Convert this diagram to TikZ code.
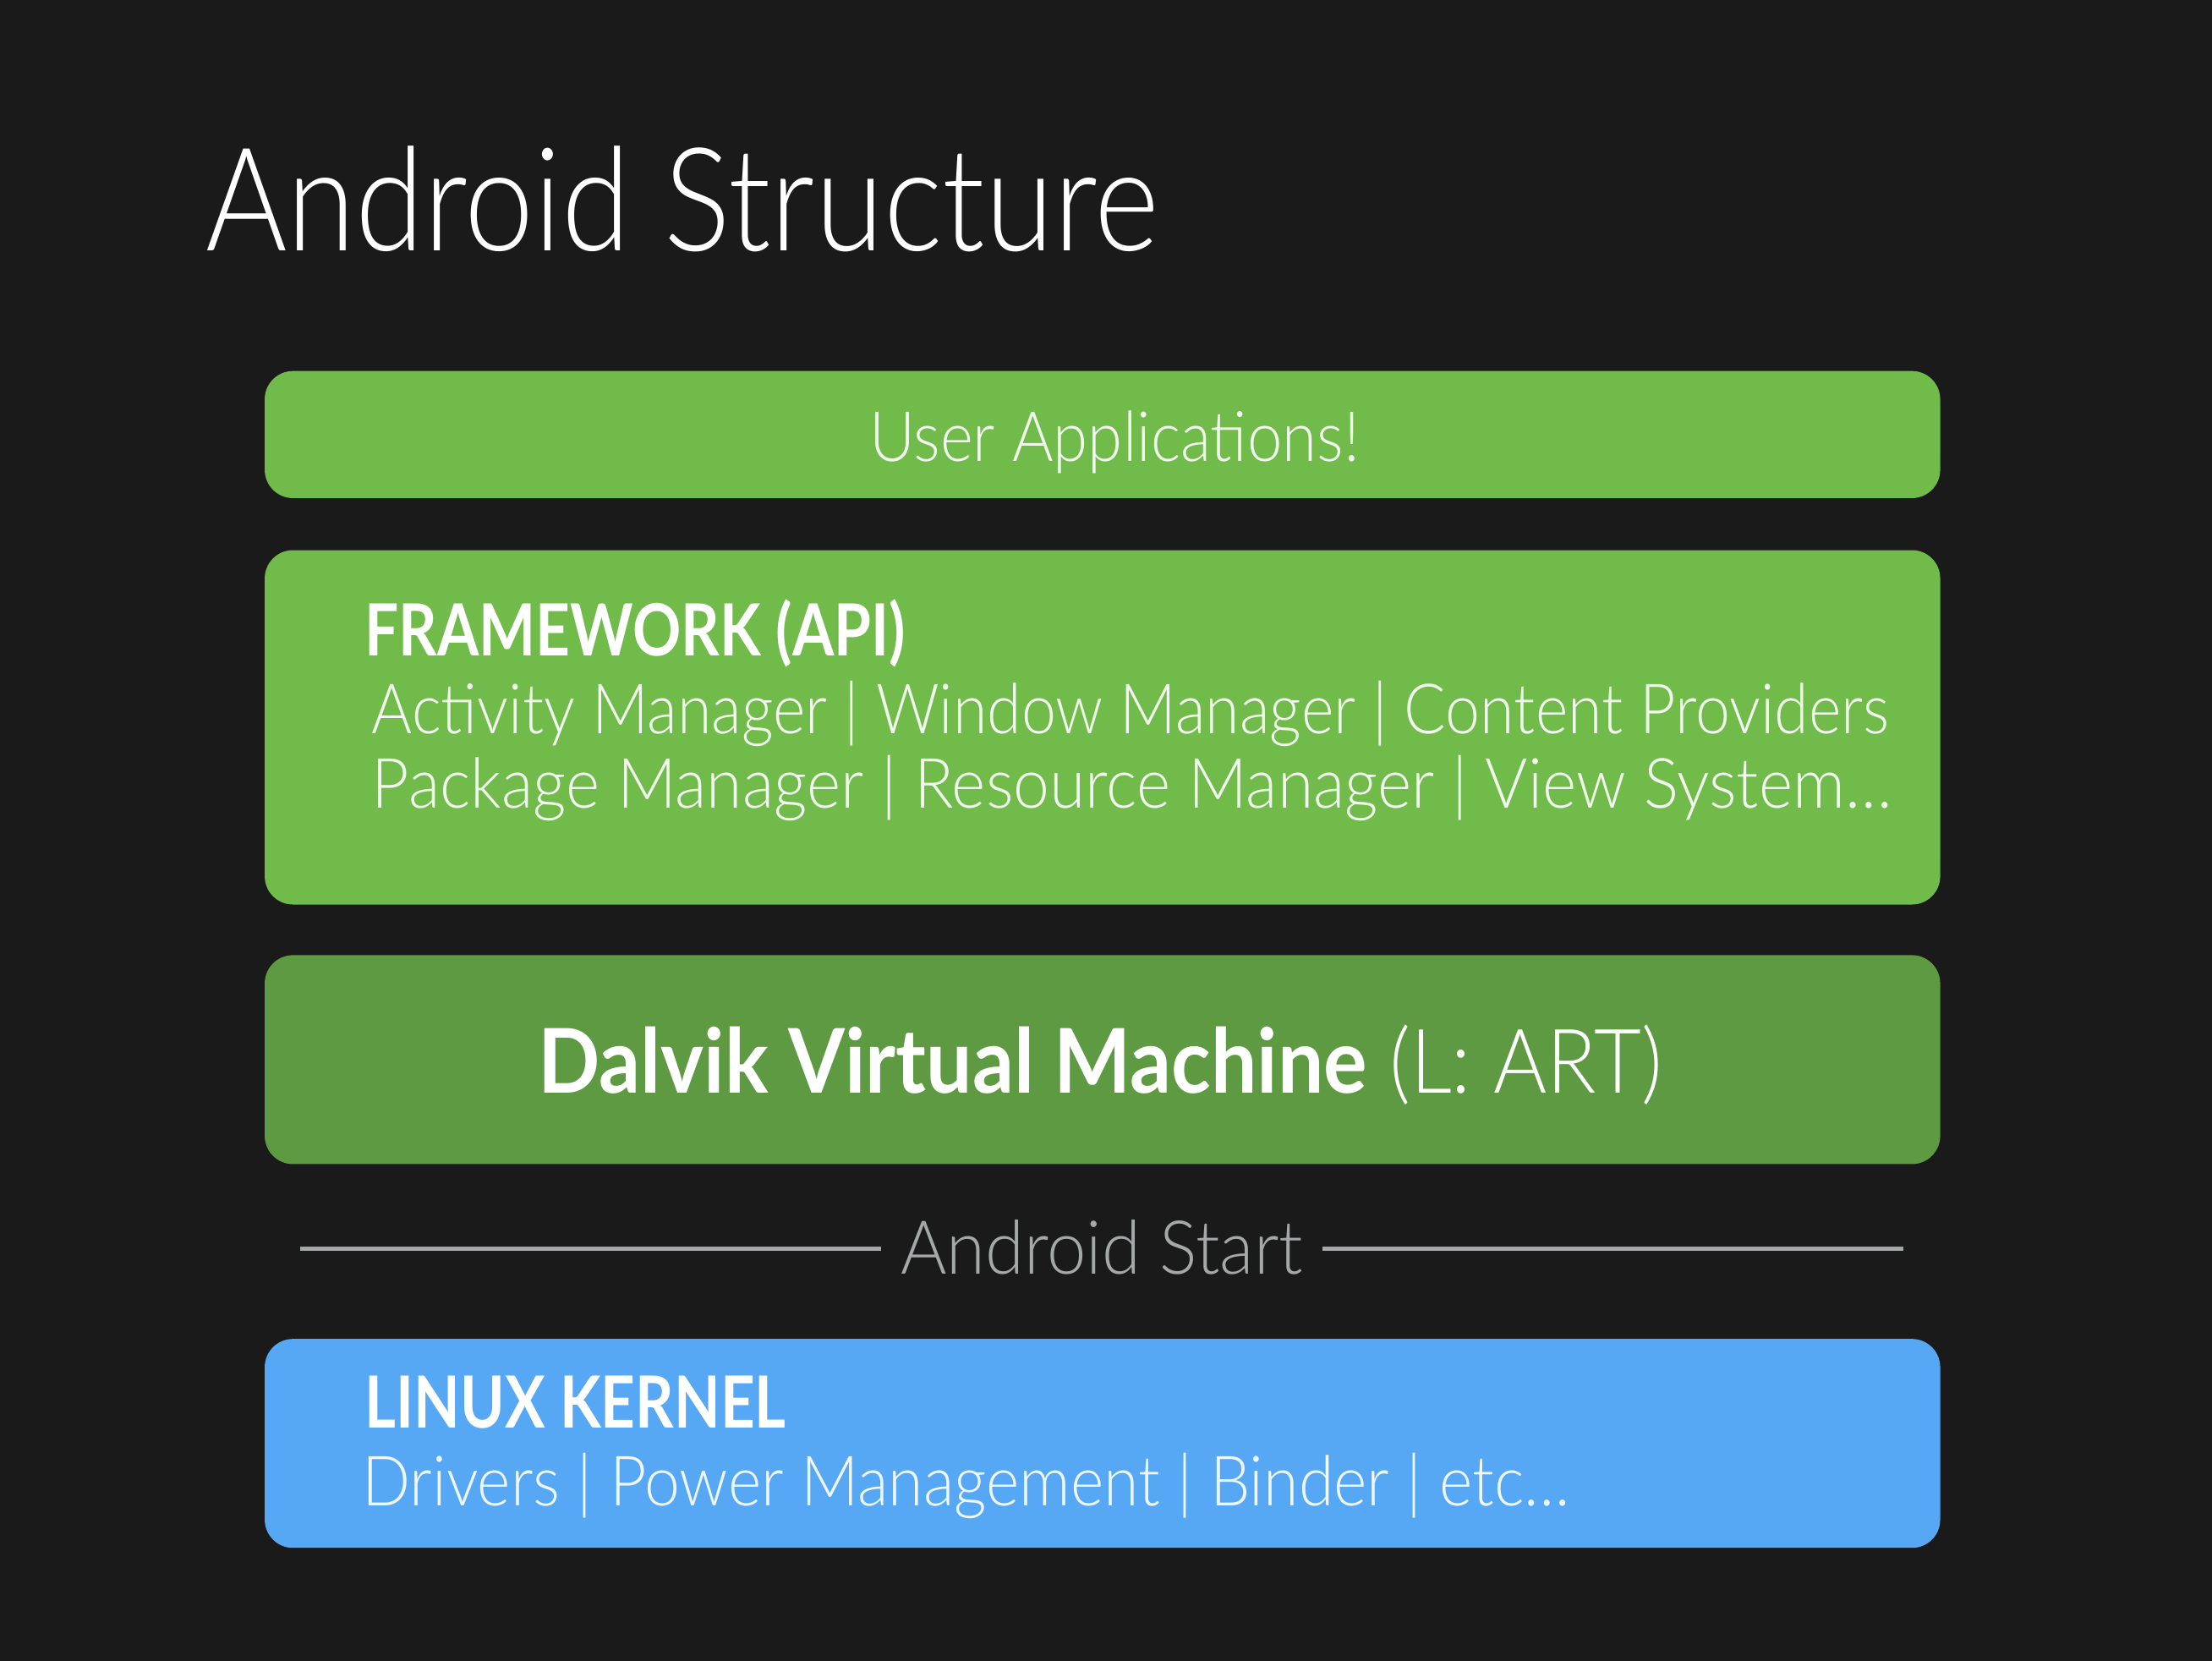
\documentclass[tikz,border=0pt]{standalone}
\usepackage{fontspec}
\IfFontExistsTF{Lato Light}
  {\setmainfont{Lato}[UprightFont=* Light, BoldFont=* Bold]}
  {\setmainfont{Lato}}
\usetikzlibrary{calc}
\definecolor{bgdark}{HTML}{1A1A1A}
\definecolor{appgreen}{HTML}{71BB4B}
\definecolor{vmgreen}{HTML}{5E9A42}
\definecolor{kernelblue}{HTML}{56A8F5}
\definecolor{startgray}{HTML}{A4A8A8}
\newcommand{\narrow}[1]{\addfontfeatures{FakeStretch=#1}}
\tikzset{
  layer/.style={rounded corners=0.2cm,minimum width=11.87cm,inner sep=0pt},
  boxtext/.style={inner sep=0pt,font=\fontsize{14}{16}\selectfont\narrow{#1}},
  boxtext/.default=0.905,
  headtext/.style={inner sep=0pt,font=\fontsize{14.5}{16}\selectfont\bfseries\narrow{0.835},text=white}
}
\begin{document}
\begin{tikzpicture}[x=0.01cm,y=-0.01cm]
  \fill[bgdark] (0,0) rectangle (1568,1177);
  \node[anchor=base west,inner sep=0pt,text=white,font=\fontsize{29}{32}\selectfont\narrow{0.866}] (title) at (145,178) {Android Structure};
  % layers
  \node[layer,fill=appgreen,minimum height=0.9cm] (apps) at (781.5,308) {};
  \node[layer,fill=appgreen,minimum height=2.51cm] (frame) at (781.5,515.5) {};
  \node[layer,fill=vmgreen,minimum height=1.48cm] (vm) at (781.5,751) {};
  \node[layer,fill=kernelblue,minimum height=1.48cm] (kernel) at (781.5,1023) {};
  % texts
  \node[boxtext,anchor=base,text=white!90!appgreen] (appsT) at (790,327) {User Applications!};
  \node[headtext,anchor=base west] (frameH) at (258,465) {FRAMEWORK (API)};
  \node[boxtext=0.895,anchor=base west,text=white!90!appgreen] (frameA) at (263,520) {Activity Manager | Window Manager | Content Providers};
  \node[boxtext=0.936,anchor=base west,text=white!90!appgreen] (frameB) at (263,573) {Package Manager | Resource Manager | View System\dots};
  \node[anchor=base,inner sep=0pt,text=white,font=\fontsize{18}{20}\selectfont\narrow{0.914}] (vmT) at (780,775) {\textbf{Dalvik Virtual Machine} (L: ART)};
  \node[headtext,anchor=base west] (kernelH) at (258,1012) {LINUX KERNEL};
  \node[boxtext=0.916,anchor=base west,text=white!90!kernelblue] (kernelT) at (256,1067) {Drivers | Power Management | Binder | etc\dots};
  % start line
  \node[anchor=base,inner ysep=0pt,inner xsep=0.13cm,text=startgray,font=\fontsize{15}{17}\selectfont\narrow{0.946}] (start) at (781,903) {Android Start};
  \coordinate (startL) at (213,885);
  \coordinate (startR) at (1349,885);
  \draw[startgray,line width=0.9pt] (startL) -- (startL -| start.west);
  \draw[startgray,line width=0.9pt] (startR -| start.east) -- (startR);
\end{tikzpicture}
\end{document}
